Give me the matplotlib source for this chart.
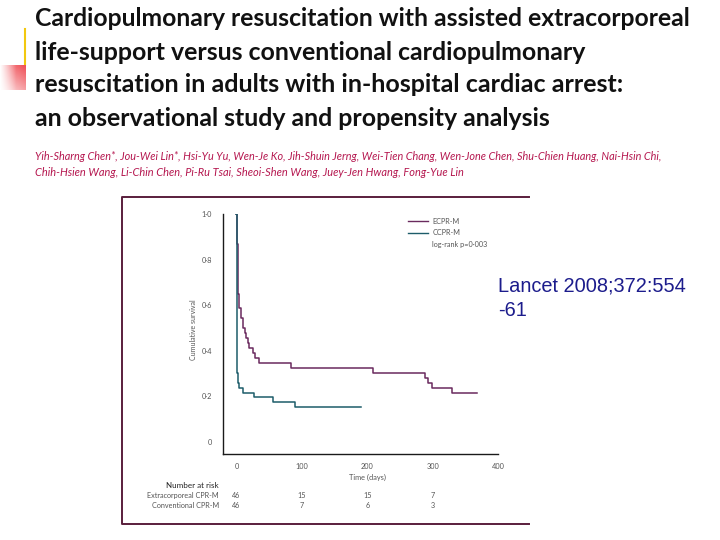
import numpy as np
import matplotlib
matplotlib.use("Agg")
import matplotlib.pyplot as plt
from matplotlib.lines import Line2D

# ---------------- data ----------------
ecpr_time = [0, 0.8, 1.5, 2.0, 2.5, 4.5, 7, 10, 12.7, 15.3, 17.8, 19.4, 25.5, 28, 34,
             84, 209, 288, 293, 299, 329, 368]
ecpr_surv = [1.0, 0.913, 0.870, 0.783, 0.652, 0.587, 0.543, 0.500, 0.478, 0.457, 0.435,
             0.413, 0.391, 0.370, 0.348, 0.326, 0.304, 0.283, 0.261, 0.239, 0.217, 0.217]
ccpr_time = [0, 1.2, 3, 4.6, 10.7, 26.5, 56.6, 89.7, 191]
ccpr_surv = [1.0, 0.304, 0.261, 0.239, 0.217, 0.196, 0.174, 0.152, 0.152]

risk_times = [0, 100, 200, 300]
risk_ecpr = [46, 15, 15, 7]
risk_ccpr = [46, 7, 6, 3]

x_ticks = [0, 100, 200, 300, 400]
x_ticklabels = ["0", "100", "200", "300", "400"]
y_ticks = [0, 0.2, 0.4, 0.6, 0.8, 1.0]
y_ticklabels = ["0", "0\u00b72", "0\u00b74", "0\u00b76", "0\u00b78", "1\u00b70"]

title_lines = [
    "Cardiopulmonary resuscitation with assisted extracorporeal",
    "life-support versus conventional cardiopulmonary",
    "resuscitation in adults with in-hospital cardiac arrest:",
    "an observational study and propensity analysis",
]
author_lines = [
    "Yih-Sharng Chen*, Jou-Wei Lin*, Hsi-Yu Yu, Wen-Je Ko, Jih-Shuin Jerng, Wei-Tien Chang, "
    "Wen-Jone Chen, Shu-Chien Huang, Nai-Hsin Chi,",
    "Chih-Hsien Wang, Li-Chin Chen, Pi-Ru Tsai, Sheoi-Shen Wang, Juey-Jen Hwang, Fong-Yue Lin",
]

C_ECPR = "#6a2a5e"
C_CCPR = "#1d5c6a"
C_BOX = "#5a1e3c"
C_TXT = "#555555"

W, H = 720, 540
fig = plt.figure(figsize=(7.2, 5.4), dpi=100)
fig.patch.set_facecolor("white")


def fx(px):
    return px / W


def fy(py):
    return 1 - py / H


renderer = fig.canvas.get_renderer()


def fit_text(x, y, s, target_w, size0, **kw):
    t = fig.text(fx(x), fy(y), s, fontsize=size0, ha="left", va="center", **kw)
    w = t.get_window_extent(renderer=renderer).width
    t.set_fontsize(size0 * target_w / w)
    return t


# decorations top-left
deco = fig.add_axes([0, fy(90), fx(26), fy(65) - fy(90)])
gx = np.linspace(0, 1, 60)[None, :]
gy = np.linspace(1, 0, 60)[:, None]
alpha = np.clip(0.15 + 0.85 * (gx * 0.45 + gy * 0.55), 0, 1) * np.clip(gx * 1.6, 0, 1)
img = np.zeros((60, 60, 4))
img[..., 0] = 0.94
img[..., 1] = 0.30
img[..., 2] = 0.33
img[..., 3] = alpha
deco.imshow(img, aspect="auto", extent=[0, 1, 0, 1])
deco.axis("off")
fig.add_artist(Line2D([fx(25), fx(25)], [fy(29), fy(64)], color="#f2c80f", lw=1.5))

# title
title_targets = [658, 553, 588, 516]
title_y = [18, 52, 85, 118]
for s, w, yy in zip(title_lines, title_targets, title_y):
    fit_text(35, yy, s, w, 16, family=["Lato", "DejaVu Sans"], weight="bold", color="#111111")

# authors
author_targets = [627, 427]
author_y = [156, 173]
for s, w, yy in zip(author_lines, author_targets, author_y):
    fit_text(35, yy, s, w, 8, family=["Lato", "DejaVu Sans"], style="italic", color="#b5174f")

# box around chart (left, top, bottom)
fig.add_artist(Line2D([fx(529), fx(122), fx(122), fx(529)],
                      [fy(197), fy(197), fy(524), fy(524)], color=C_BOX, lw=1.4))

# main axes
ax = fig.add_axes([fx(223.3), fy(454.3), fx(498.3) - fx(223.3), fy(214.3) - fy(454.3)])
ax.step(ecpr_time, ecpr_surv, where="post", color=C_ECPR, lw=1.1, label="ECPR-M")
ax.step(ccpr_time, ccpr_surv, where="post", color=C_CCPR, lw=1.1, label="CCPR-M")
ax.set_xlim(-20, 400)
ax.set_ylim(-0.054, 1.0)
for sp in ["top", "right"]:
    ax.spines[sp].set_visible(False)
for sp in ["left", "bottom"]:
    ax.spines[sp].set_color("#1a1a1a")
    ax.spines[sp].set_linewidth(1.0)
ax.spines["bottom"].set_bounds(-20, 400)
ax.set_xticks(x_ticks)
ax.set_xticklabels(x_ticklabels)
ax.set_yticks(y_ticks)
ax.set_yticklabels(y_ticklabels)
ax.tick_params(axis="both", length=0, labelsize=5.3, labelcolor=C_TXT)
ax.tick_params(axis="y", pad=8)
ax.tick_params(axis="x", pad=6)
ax.set_xticks([0, 400], minor=True)
ax.set_yticks([1.0], minor=True)
ax.tick_params(which="minor", length=4, width=1.0, color="#1a1a1a")
for lab in ax.get_xticklabels() + ax.get_yticklabels():
    lab.set_family(["Lato", "DejaVu Sans"])

fig.text(fx(194), fy(330), "Cumulative survival", rotation=90, ha="center", va="center",
         fontsize=5, color=C_TXT, family=["Lato", "DejaVu Sans"])
ax.text(200, -0.0975, "Time (days)", transform=ax.get_xaxis_transform(), ha="center",
        va="center", fontsize=5.3, color=C_TXT, family=["Lato", "DejaVu Sans"])

# legend
handles = [Line2D([], [], color=C_ECPR, lw=1.0),
           Line2D([], [], color=C_CCPR, lw=1.0),
           Line2D([], [], color="none", lw=1.0)]
labels = ["ECPR-M", "CCPR-M", "log-rank p=0\u00b7003"]
leg = ax.legend(handles, labels, loc="upper left", bbox_to_anchor=(fx(408), fy(218)),
                bbox_transform=fig.transFigure, frameon=False,
                handlelength=2.8, handletextpad=0.55, labelspacing=0.62, borderpad=0,
                borderaxespad=0, prop={"family": ["Lato", "DejaVu Sans"], "size": 5.2})
for t in leg.get_texts():
    t.set_color(C_TXT)

# number at risk
fig.text(fx(219), fy(485), "Number at risk", ha="right", va="center", fontsize=5.8,
         color="#222222", family=["Lato", "DejaVu Sans"])
fig.text(fx(219), fy(495.7), "Extracorporeal CPR-M", ha="right", va="center", fontsize=5.2,
         color=C_TXT, family=["Lato", "DejaVu Sans"])
fig.text(fx(219), fy(506), "Conventional CPR-M", ha="right", va="center", fontsize=5.2,
         color=C_TXT, family=["Lato", "DejaVu Sans"])
bt = ax.get_xaxis_transform()
y_r1 = (454.3 - 495.7) / 240.0
y_r2 = (454.3 - 506.0) / 240.0
for t, a, b in zip(risk_times, risk_ecpr, risk_ccpr):
    ax.text(t, y_r1, str(a), transform=bt, ha="center", va="center", fontsize=5.2,
            color=C_TXT, family=["Lato", "DejaVu Sans"], clip_on=False)
    ax.text(t, y_r2, str(b), transform=bt, ha="center", va="center", fontsize=5.2,
            color=C_TXT, family=["Lato", "DejaVu Sans"], clip_on=False)

# citation
fit_text(498, 286, "Lancet 2008;372:554", 187, 13, color="#1c1c8c",
         family=["Liberation Sans", "DejaVu Sans"])
fig.text(fx(498), fy(311), "-61", ha="left", va="center",
         fontsize=fig.texts[-1].get_fontsize(), color="#1c1c8c",
         family=["Liberation Sans", "DejaVu Sans"])

fig.savefig("out.png", dpi=100, facecolor="white")
